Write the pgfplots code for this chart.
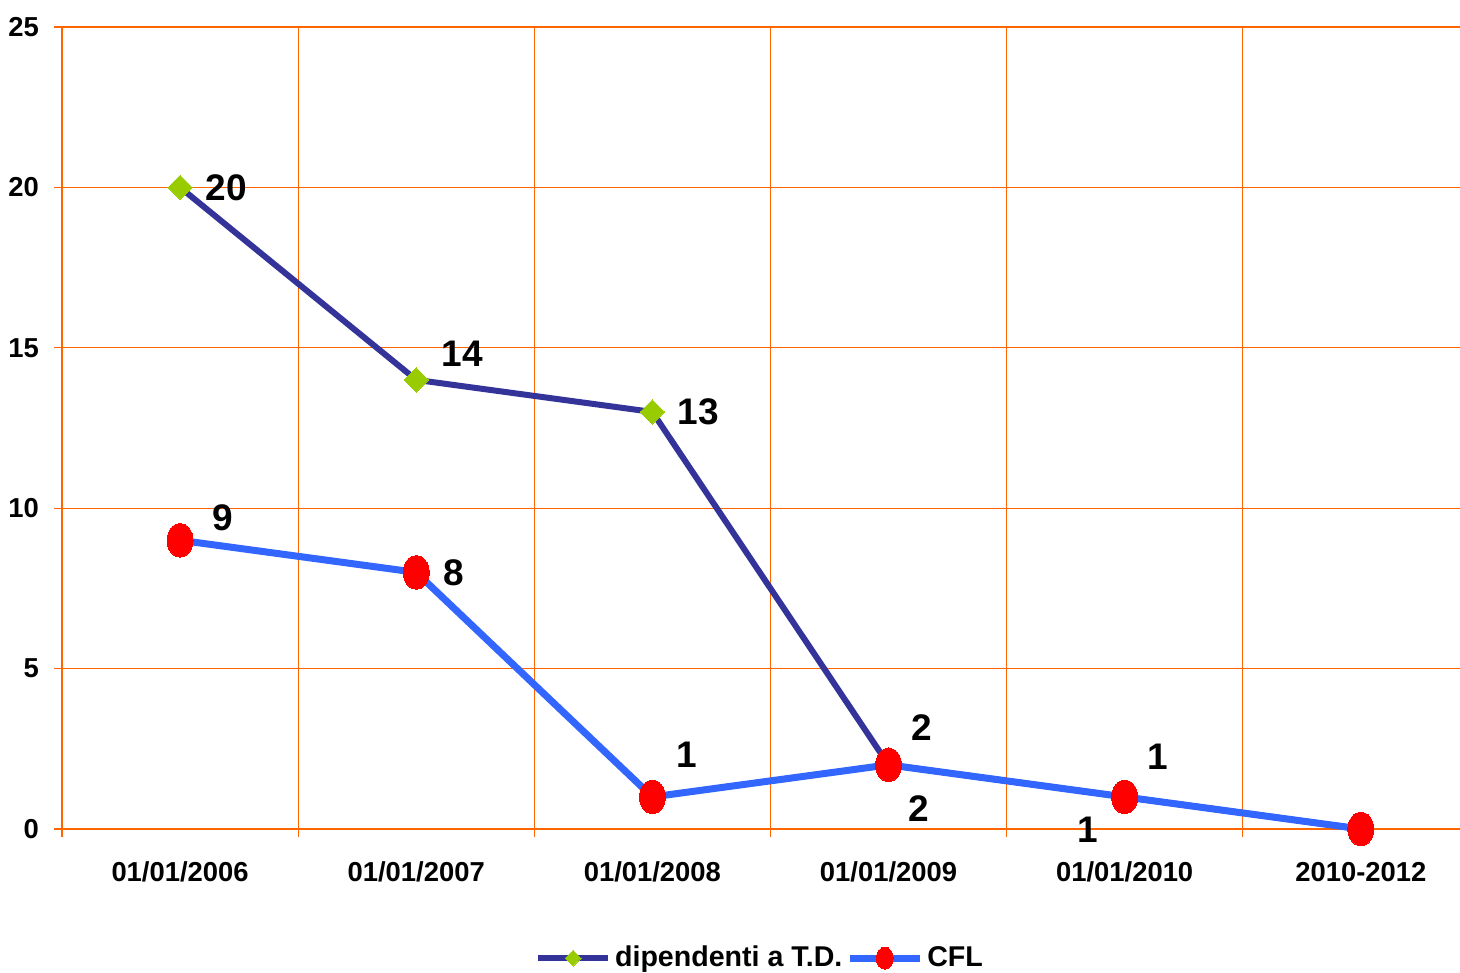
\documentclass[border=0pt]{standalone}
\usepackage{fontspec}
\setmainfont{Liberation Sans}
\usepackage{pgfplots}
\pgfplotsset{compat=1.18}
\definecolor{gridor}{HTML}{FF6600}
\definecolor{navy}{HTML}{333399}
\definecolor{lgreen}{HTML}{99CC00}
\definecolor{cflblue}{HTML}{3366FF}
\definecolor{cflred}{HTML}{FF0000}
\begin{document}
\begin{tikzpicture}
\begin{axis}[
  scale only axis,
  width=699pt, height=401pt,
  xmin=-0.5, xmax=5.42, ymin=0, ymax=25,
  axis x line*=bottom, axis y line*=left,
  axis line style={-, draw=gridor, line width=0.6pt},
  xtick={-0.5,0.5,1.5,2.5,3.5,4.5,5.5}, xticklabels={},
  extra x ticks={0,1,2,3,4,5},
  extra x tick labels={01/01/2006,01/01/2007,01/01/2008,01/01/2009,01/01/2010,2010-2012},
  extra x tick style={major tick length=0pt, grid=none, tick label style={yshift=-13pt}},
  ytick={0,5,...,25},
  tick align=outside, major tick length=4pt,
  tick style={draw=gridor, line width=0.6pt},
  xmajorgrids, ymajorgrids,
  grid style={draw=gridor, line width=0.6pt},
  tick label style={font=\fontsize{13.7}{15}\selectfont\bfseries},
  /pgf/number format/assume math mode=true,
  y tick label style={xshift=-4pt},
  legend style={draw=none, at={(0.5,-0.161)}, anchor=center, legend columns=2,
    font=\fontsize{14.3}{16}\selectfont\bfseries,
    /tikz/every even column/.append style={column sep=0pt}},
  legend image code/.code={\draw[#1, mark repeat=2, mark phase=2, every mark/.append style={scale=0.65}] plot coordinates {(0pt,0pt) (17.5pt,0pt) (35pt,0pt)};},
  clip=false,
]
\addplot[navy, line width=3pt, mark=square*, mark size=4.3pt,
  mark options={fill=lgreen, draw=lgreen, line width=0pt, rotate=45}]
  coordinates {(0,20) (1,14) (2,13) (3,2) (4,1) (5,0)};
\addlegendentry{dipendenti a T.D.}
\addplot[cflblue, line width=3.5pt, mark=*, mark size=6.5pt,
  mark options={fill=cflred, draw=cflred, line width=0pt, yscale=1.3}]
  coordinates {(0,9) (1,8) (2,1) (3,2) (4,1) (5,0)};
\addlegendentry{CFL}
% data labels
\addplot[forget plot, draw=none, mark=none,
  visualization depends on={value \thisrow{dx} \as \dx},
  visualization depends on={value \thisrow{dy} \as \dy},
  point meta=explicit symbolic,
  nodes near coords,
  nodes near coords style={anchor=center, xshift=\dx pt, yshift=\dy pt,
    font=\fontsize{18.5}{20}\selectfont\bfseries, text=black}]
  table[meta=lab] {
x y dx dy lab
0 20 23 0 20
1 14 23 13 14
2 13 23 0 13
3 2 15 -22 2
4 1 -18.5 -16.5 1
};
\addplot[forget plot, draw=none, mark=none,
  visualization depends on={value \thisrow{dx} \as \dx},
  visualization depends on={value \thisrow{dy} \as \dy},
  point meta=explicit symbolic,
  nodes near coords,
  nodes near coords style={anchor=center, xshift=\dx pt, yshift=\dy pt,
    font=\fontsize{18.5}{20}\selectfont\bfseries, text=black}]
  table[meta=lab] {
x y dx dy lab
0 9 21.5 11.5 9
1 8 19 0 8
2 1 17 21 1
3 2 16.5 18.5 2
4 1 16.5 20 1
};
\coordinate (SW) at (rel axis cs:0,0);
\coordinate (NE) at (rel axis cs:1,1);
\end{axis}
\pgfresetboundingbox
\path[use as bounding box] ([xshift=-31pt, yshift=-72pt]SW) rectangle ([yshift=13.5pt]NE);
\end{tikzpicture}
\end{document}
